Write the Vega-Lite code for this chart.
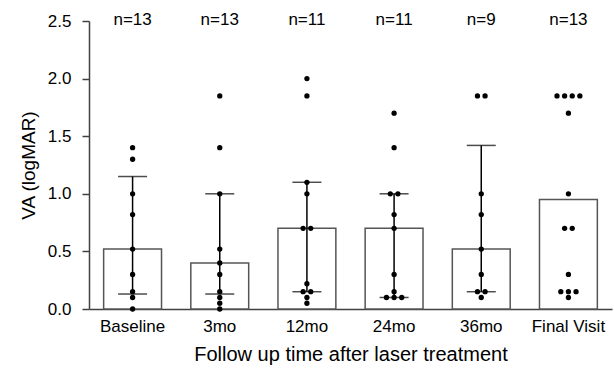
{
  "$schema": "https://vega.github.io/schema/vega-lite/v6.json",
  "width": 523,
  "height": 288,
  "autosize": {"type": "none"},
  "padding": {"left": 89, "top": 21, "right": 2, "bottom": 61},
  "background": "white",
  "config": {
    "view": {"stroke": null},
    "font": "Liberation Sans",
    "axis": {
      "domainColor": "#404040",
      "domainWidth": 1.5,
      "tickColor": "#404040",
      "tickWidth": 1.5,
      "labelColor": "#000000",
      "titleColor": "#000000",
      "labelFont": "Liberation Sans",
      "titleFont": "Liberation Sans",
      "titleFontWeight": "normal",
      "grid": false
    }
  },
  "datasets": {
    "summary": [
      {"group": "Baseline", "center": 0.52, "lo": 0.13, "hi": 1.15, "n": "n=13"},
      {"group": "3mo", "center": 0.40, "lo": 0.13, "hi": 1.0, "n": "n=13"},
      {"group": "12mo", "center": 0.70, "lo": 0.15, "hi": 1.1, "n": "n=11"},
      {"group": "24mo", "center": 0.70, "lo": 0.10, "hi": 1.0, "n": "n=11"},
      {"group": "36mo", "center": 0.52, "lo": 0.15, "hi": 1.42, "n": "n=9"},
      {"group": "Final Visit", "center": 0.95, "lo": null, "hi": null, "n": "n=13"}
    ],
    "points": [
      {"group": "Baseline", "va": 1.4}, {"group": "Baseline", "va": 1.3}, {"group": "Baseline", "va": 1.0},
      {"group": "Baseline", "va": 0.82}, {"group": "Baseline", "va": 0.52}, {"group": "Baseline", "va": 0.3},
      {"group": "Baseline", "va": 0.15}, {"group": "Baseline", "va": 0.1}, {"group": "Baseline", "va": 0.0},
      {"group": "3mo", "va": 1.85}, {"group": "3mo", "va": 1.4}, {"group": "3mo", "va": 1.0},
      {"group": "3mo", "va": 0.52}, {"group": "3mo", "va": 0.4}, {"group": "3mo", "va": 0.3},
      {"group": "3mo", "va": 0.15}, {"group": "3mo", "va": 0.1}, {"group": "3mo", "va": 0.05},
      {"group": "3mo", "va": 0.0},
      {"group": "12mo", "va": 2.0}, {"group": "12mo", "va": 1.85}, {"group": "12mo", "va": 1.1},
      {"group": "12mo", "va": 1.0}, {"group": "12mo", "va": 0.7}, {"group": "12mo", "va": 0.7},
      {"group": "12mo", "va": 0.22}, {"group": "12mo", "va": 0.15}, {"group": "12mo", "va": 0.15},
      {"group": "12mo", "va": 0.1}, {"group": "12mo", "va": 0.05},
      {"group": "24mo", "va": 1.7}, {"group": "24mo", "va": 1.4}, {"group": "24mo", "va": 1.0},
      {"group": "24mo", "va": 1.0}, {"group": "24mo", "va": 0.82}, {"group": "24mo", "va": 0.7},
      {"group": "24mo", "va": 0.3}, {"group": "24mo", "va": 0.15}, {"group": "24mo", "va": 0.1},
      {"group": "24mo", "va": 0.1}, {"group": "24mo", "va": 0.1},
      {"group": "36mo", "va": 1.85}, {"group": "36mo", "va": 1.85}, {"group": "36mo", "va": 1.0},
      {"group": "36mo", "va": 0.82}, {"group": "36mo", "va": 0.52}, {"group": "36mo", "va": 0.3},
      {"group": "36mo", "va": 0.15}, {"group": "36mo", "va": 0.15}, {"group": "36mo", "va": 0.1},
      {"group": "Final Visit", "va": 1.85}, {"group": "Final Visit", "va": 1.85}, {"group": "Final Visit", "va": 1.85},
      {"group": "Final Visit", "va": 1.85}, {"group": "Final Visit", "va": 1.7}, {"group": "Final Visit", "va": 1.0},
      {"group": "Final Visit", "va": 0.7}, {"group": "Final Visit", "va": 0.7}, {"group": "Final Visit", "va": 0.3},
      {"group": "Final Visit", "va": 0.15}, {"group": "Final Visit", "va": 0.15}, {"group": "Final Visit", "va": 0.15},
      {"group": "Final Visit", "va": 0.1}
    ]
  },
  "resolve": {"scale": {"xOffset": "independent"}},
  "layer": [
    {
      "data": {"name": "summary"},
      "mark": {"type": "bar", "fill": "white", "stroke": "#555555", "strokeWidth": 1.5, "width": {"band": 1}},
      "encoding": {
        "x": {
          "field": "group", "type": "nominal", "sort": null,
          "scale": {"paddingInner": 0.336, "paddingOuter": 0.168},
          "axis": {
            "title": "Follow up time after laser treatment",
            "labelAngle": 0, "labelFontSize": 17, "titleFontSize": 20,
            "tickSize": -7, "labelPadding": 16, "titlePadding": 10
          }
        },
        "y": {
          "field": "center", "type": "quantitative",
          "scale": {"domain": [0, 2.5], "nice": false},
          "axis": {
            "title": "VA (logMAR)",
            "values": [0, 0.25, 0.5, 0.75, 1, 1.25, 1.5, 1.75, 2, 2.25, 2.5],
            "labelExpr": "abs(datum.value * 2 - round(datum.value * 2)) < 0.01 ? format(datum.value, '.1f') : ''",
            "tickSize": {"condition": {"test": "abs(datum.value * 2 - round(datum.value * 2)) > 0.01", "value": 4}, "value": 7},
            "labelFontSize": 17, "titleFontSize": 19, "labelPadding": 11, "titlePadding": 9
          }
        }
      }
    },
    {
      "data": {"name": "summary"},
      "transform": [{"filter": "datum.hi != null"}],
      "mark": {"type": "rule", "color": "black", "strokeWidth": 1.5},
      "encoding": {
        "x": {"field": "group", "type": "nominal", "sort": null},
        "y": {"field": "lo", "type": "quantitative"},
        "y2": {"field": "hi"}
      }
    },
    {
      "data": {"name": "summary"},
      "transform": [{"filter": "datum.hi != null"}, {"fold": ["lo", "hi"], "as": ["end", "endValue"]}],
      "mark": {"type": "tick", "color": "black", "thickness": 1.5, "size": 29, "orient": "horizontal"},
      "encoding": {
        "x": {"field": "group", "type": "nominal", "sort": null},
        "y": {"field": "endValue", "type": "quantitative"}
      }
    },
    {
      "data": {"name": "points"},
      "transform": [
        {"window": [{"op": "row_number", "as": "rank"}], "groupby": ["group", "va"]},
        {"joinaggregate": [{"op": "count", "as": "cnt"}], "groupby": ["group", "va"]},
        {"calculate": "datum.rank - (datum.cnt + 1) / 2", "as": "slot"}
      ],
      "mark": {"type": "circle", "color": "black", "opacity": 1, "size": 28},
      "encoding": {
        "x": {"field": "group", "type": "nominal", "sort": null},
        "xOffset": {"field": "slot", "type": "quantitative", "scale": {"domain": [-3.8, 3.8], "range": [0, 57.9]}},
        "y": {"field": "va", "type": "quantitative"}
      }
    },
    {
      "data": {"name": "summary"},
      "mark": {"type": "text", "fontSize": 17, "baseline": "middle", "dy": -1, "color": "black"},
      "encoding": {
        "x": {"field": "group", "type": "nominal", "sort": null},
        "y": {"datum": 2.5},
        "text": {"field": "n"}
      }
    }
  ]
}
